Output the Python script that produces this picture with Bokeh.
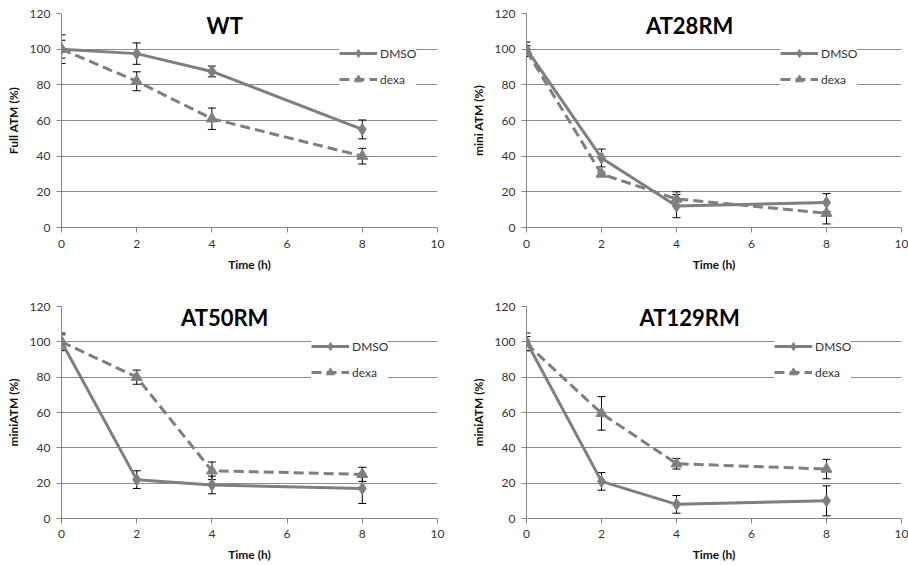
from bokeh.plotting import figure
from bokeh.models import (Range1d, Whisker, ColumnDataSource, Legend, LegendItem,
                          Label, TeeHead, FixedTicker)
from bokeh.layouts import column, row
from bokeh.embed import file_html
from bokeh.resources import INLINE

# ---------------- data ----------------
time_h = [0, 2, 4, 8]
x_ticks = [0, 2, 4, 6, 8, 10]
y_ticks = [0, 20, 40, 60, 80, 100, 120]

wt_dmso = [100, 97.5, 87.5, 55]
wt_dmso_err = [8, 6, 3, 5.3]
wt_dexa = [100, 82, 61, 40]
wt_dexa_err = [5, 5.3, 6, 4.4]

at28_dmso = [100, 39, 12, 14]
at28_dmso_err = [4, 5, 6.5, 5]
at28_dexa = [99, 30, 16, 8]
at28_dexa_err = [3, 1, 4, 6]

at50_dmso = [100, 22, 19, 17]
at50_dmso_err = [5, 5, 5, 8.5]
at50_dexa = [100, 80, 27, 25]
at50_dexa_err = [4, 4, 5, 4]

at129_dmso = [100, 21, 8, 10]
at129_dmso_err = [5, 5, 5, 8.5]
at129_dexa = [99, 59.5, 31, 28]
at129_dexa_err = [4, 9.5, 3, 5.5]

titles = ["WT", "AT28RM", "AT50RM", "AT129RM"]
ylabels = ["Full ATM (%)", "mini ATM (%)", "miniATM (%)", "miniATM (%)"]
series_names = ["DMSO", "dexa"]

FONT = "Lato"
GRAY = "#7f7f7f"
AXIS = "#868686"
GRID = "#8c8c8c"
TXT = "#333333"


def make_panel(title, ylabel, dmso, dmso_err, dexa, dexa_err, w, h, bl, br, bt, bb,
               leg_x, leg_y, title_x, xstand):
    p = figure(width=w, height=h, output_backend="svg", toolbar_location=None,
               x_range=Range1d(0, 10), y_range=Range1d(0, 120))
    p.min_border_left = bl
    p.min_border_right = br
    p.min_border_top = bt
    p.min_border_bottom = bb
    p.outline_line_color = None
    p.xgrid.grid_line_color = None
    p.ygrid.grid_line_color = GRID
    p.ygrid.grid_line_width = 1
    p.xaxis.ticker = FixedTicker(ticks=x_ticks)
    p.yaxis.ticker = FixedTicker(ticks=y_ticks)
    for ax in (p.xaxis, p.yaxis):
        ax.axis_line_color = AXIS
        ax.major_tick_line_color = AXIS
        ax.minor_tick_line_color = None
        ax.major_tick_in = 0
        ax.major_tick_out = 5
        ax.major_label_text_font = FONT
        ax.major_label_text_font_size = "12px"
        ax.major_label_text_color = TXT
        ax.axis_label_text_font = FONT
        ax.axis_label_text_font_size = "12px"
        ax.axis_label_text_font_style = "bold"
        ax.axis_label_text_color = "#111111"
    p.xaxis.axis_label = "Time (h)"
    p.yaxis.axis_label = ylabel
    p.xaxis.major_label_standoff = xstand
    p.xaxis.axis_label_standoff = 6
    p.yaxis.major_label_standoff = 6
    p.yaxis.axis_label_standoff = 6

    src_a = ColumnDataSource(dict(x=time_h, y=dmso,
                                  lo=[v - e for v, e in zip(dmso, dmso_err)],
                                  hi=[v + e for v, e in zip(dmso, dmso_err)]))
    src_b = ColumnDataSource(dict(x=time_h, y=dexa,
                                  lo=[v - e for v, e in zip(dexa, dexa_err)],
                                  hi=[v + e for v, e in zip(dexa, dexa_err)]))

    la = p.line("x", "y", source=src_a, line_color=GRAY, line_width=3)
    ma = p.scatter("x", "y", source=src_a, marker="diamond", size=12,
                   fill_color=GRAY, line_color=GRAY)
    lb = p.line("x", "y", source=src_b, line_color=GRAY, line_width=3, line_dash="10 5")
    mb = p.scatter("x", "y", source=src_b, marker="triangle", size=11,
                   fill_color=GRAY, line_color=GRAY)

    for s in (src_a, src_b):
        wk = Whisker(base="x", lower="lo", upper="hi", source=s,
                     line_color="black", line_width=1,
                     upper_head=TeeHead(size=8, line_color="black", line_width=1),
                     lower_head=TeeHead(size=8, line_color="black", line_width=1))
        p.add_layout(wk)

    legend = Legend(items=[LegendItem(label=series_names[0], renderers=[la, ma]),
                           LegendItem(label=series_names[1], renderers=[lb, mb])],
                    location=(leg_x, leg_y))
    legend.background_fill_color = "white"
    legend.background_fill_alpha = 1
    legend.border_line_color = None
    legend.padding = 4
    legend.spacing = 6
    legend.margin = 0
    legend.glyph_width = 38
    legend.glyph_height = 20
    legend.label_height = 20
    legend.label_standoff = 3
    legend.label_text_font = FONT
    legend.label_text_font_size = "12px"
    legend.label_text_color = TXT
    p.add_layout(legend)

    t = Label(x=title_x, y=113.5, text=title, text_align="center", text_baseline="middle",
              text_font=FONT, text_font_size="22px", text_font_style="bold",
              text_color="black", background_fill_color="white", background_fill_alpha=1,
              padding=6)
    p.add_layout(t)
    return p


p1 = make_panel(titles[0], ylabels[0], wt_dmso, wt_dmso_err, wt_dexa, wt_dexa_err,
                454, 283, 61, 17, 13, 56, 278, 138, 4.34, 7)
p2 = make_panel(titles[1], ylabels[1], at28_dmso, at28_dmso_err, at28_dexa, at28_dexa_err,
                454, 283, 72, 7, 13, 56, 254, 138, 4.35, 7)
p3 = make_panel(titles[2], ylabels[2], at50_dmso, at50_dmso_err, at50_dexa, at50_dexa_err,
                454, 283, 61, 17, 23, 48, 250, 136, 4.34, 6)
p4 = make_panel(titles[3], ylabels[3], at129_dmso, at129_dmso_err, at129_dexa, at129_dexa_err,
                454, 283, 72, 7, 23, 48, 248, 136, 4.35, 6)

layout = column(row(p1, p2), row(p3, p4))

with open("out.html", "w") as f:
    f.write(file_html(layout, INLINE))
